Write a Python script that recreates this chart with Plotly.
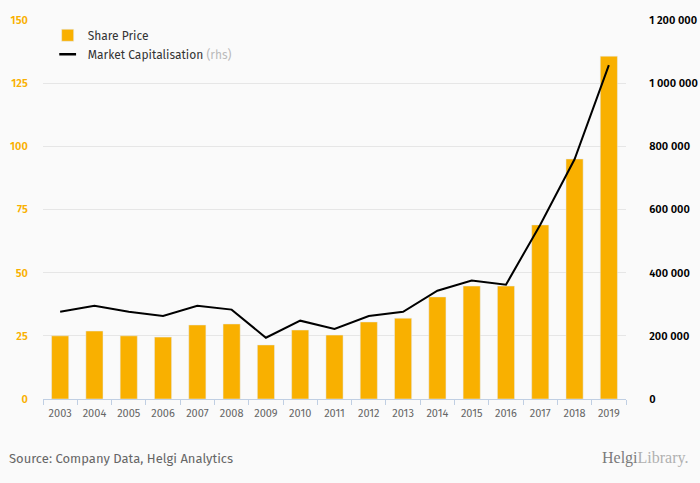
import plotly.graph_objects as go

years = [str(y) for y in range(2003, 2020)]
share_price = [25.0, 26.9, 25.0, 24.5, 29.3, 29.7, 21.4, 27.3, 25.3, 30.5, 32.0, 40.4, 44.7, 44.7, 68.9, 95.0, 135.7]
market_cap = [276000, 295000, 276000, 263000, 295000, 283000, 194000, 248000, 222000, 263000, 276000, 343000, 375000, 362000, 552000, 759000, 1057000]

left_ticks = [0, 25, 50, 75, 100, 125, 150]
right_ticks = [0, 200000, 400000, 600000, 800000, 1000000, 1200000]
right_labels = ["0", "200 000", "400 000", "600 000", "800 000", "1 000 000", "1 200 000"]

ORANGE = "#F9B000"
FONT = "Fira Sans, Open Sans, sans-serif"

fig = go.Figure()
fig.add_trace(go.Bar(x=years, y=share_price, name="Share Price", marker_color=ORANGE,
                     width=0.5, yaxis="y"))
fig.add_trace(go.Scatter(x=years, y=market_cap, mode="lines", showlegend=False,
                         name="Market Capitalisation",
                         line=dict(color="#000000", width=2), yaxis="y2"))
# legend entry for the line (short dash symbol like the reference)
fig.add_trace(go.Scatter(x=[years[0]], y=[None], mode="markers",
                         name="Market Capitalisation <span style='color:#BBBBBB'>(rhs)</span>",
                         marker=dict(symbol="line-ew", size=12, color="#000000",
                                     line=dict(color="#000000", width=2.5)),
                         yaxis="y2", hoverinfo="skip"))

fig.update_layout(
    width=700, height=483,
    paper_bgcolor="#FAFAFA", plot_bgcolor="#FAFAFA",
    margin=dict(l=43, r=74, t=20, b=84),
    font=dict(family=FONT, size=11, color="#333333"),
    showlegend=True,
    legend=dict(x=0.008, y=0.998, xanchor="left", yanchor="top",
                bgcolor="rgba(0,0,0,0)", font=dict(size=12, color="#333333"),
                tracegroupgap=3, itemwidth=30),
    xaxis=dict(type="category", range=[-0.5, len(years) - 0.5],
               showgrid=False, showline=True, linecolor="#C0CFE3",
               linewidth=1, ticks="outside", tickson="boundaries", ticklen=5,
               tickcolor="#C0CFE3", tickangle=0, automargin=False,
               ticklabelstandoff=4,
               tickfont=dict(size=11, color="#666666")),
    yaxis=dict(range=[0, 150], tickvals=left_ticks, showgrid=True, gridcolor="#E6E6E6",
               zeroline=False, ticks="outside", ticklen=12, tickcolor="rgba(0,0,0,0)",
               automargin=False,
               tickfont=dict(size=11, color=ORANGE, weight=600)),
    yaxis2=dict(range=[0, 1200000], tickvals=right_ticks, ticktext=right_labels,
                overlaying="y", side="right", showgrid=False, zeroline=False,
                ticks="outside", ticklen=20, tickcolor="rgba(0,0,0,0)",
                automargin=False,
                tickfont=dict(size=11, color="#000000", weight=600)),
    bargap=0.5,
)

fig.add_annotation(text="Source: Company Data, Helgi Analytics", xref="paper", yref="paper",
                   x=-0.062, y=-0.156, xanchor="left", yanchor="middle", showarrow=False,
                   font=dict(size=13, color="#666666", family=FONT))
fig.add_annotation(text="<span style='color:#7A7A7A'>Helgi</span><span style='color:#B0B0B0'>Library.</span>",
                   xref="paper", yref="paper",
                   x=1.1098, y=-0.156, xanchor="right", yanchor="middle", showarrow=False,
                   font=dict(size=16, color="#999999", family="Liberation Serif, serif"))

fig.write_html("out.html", config={"displayModeBar": False},
               post_script="document.body.style.margin='0';document.body.style.background='#FAFAFA';")
